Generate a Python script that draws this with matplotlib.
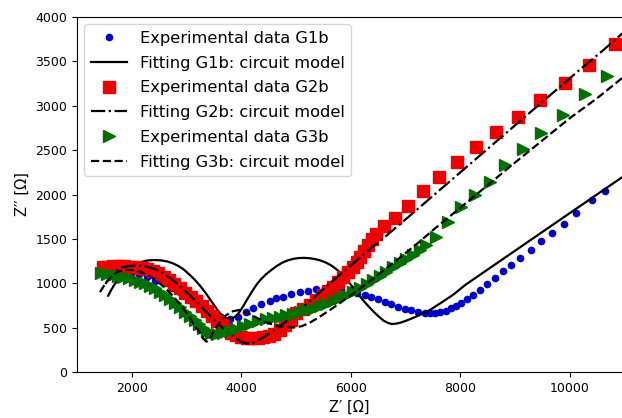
import matplotlib
matplotlib.use("Agg")
import matplotlib.pyplot as plt

# G1b experimental
g1_x = [1500,1620,1740,1870,2000,2140,2280,2430,2580,2730,2880,3030,3180,3330,3480,3630,3790,3940,4095,4216,4369,4520,4643,4763,4917,5068,5220,5373,5525,5677,5830,5982,6115,6256,6378,6499,6621,6743,6864,6986,7109,7229,7352,7443,7534,7638,7735,7827,7918,8022,8132,8234,8356,8490,8630,8782,8935,9087,9288,9471,9684,9897,10110,10397,10640]
g1_y = [1150,1160,1160,1150,1130,1100,1065,1030,1000,950,900,840,780,720,665,625,600,620,680,725,766,803,830,848,879,901,916,932,939,943,939,924,893,868,848,819,792,766,736,713,699,679,668,664,666,676,691,717,744,780,825,870,925,990,1060,1135,1206,1288,1380,1480,1570,1668,1788,1938,2040]

# G1b fit
g1f_x = [1570,1620,1680,1740,1800,1870,1950,2050,2150,2270,2400,2530,2650,2750,2850,2950,3050,3150,3250,3350,3450,3530,3600,3660,3720,3780,3840,3900,3960,4030,4100,4200,4280,4360,4450,4550,4650,4750,4850,4950,5050,5150,5250,5350,5450,5550,5650,5750,5850,5950,6050,6150,6250,6370,6450,6530,6600,6680,6750,6830,6900,7000,7100,7250,7450,7650,7869,8100,8400,8721,9087,9400,9757,10000,10305,10600,10960]
g1f_y = [860,920,980,1040,1090,1135,1175,1210,1235,1255,1262,1258,1245,1225,1195,1155,1100,1040,970,890,800,730,670,630,605,598,605,630,670,735,810,910,985,1045,1100,1150,1195,1232,1258,1275,1284,1286,1282,1272,1256,1232,1198,1152,1095,1025,945,865,790,710,660,615,578,553,541,545,555,575,600,640,700,780,870,985,1112,1248,1403,1536,1687,1790,1919,2044,2196]

# G2b experimental
g2_x = [1480,1570,1660,1760,1860,1960,2070,2180,2280,2380,2480,2580,2680,2780,2880,2980,3080,3180,3280,3370,3460,3550,3640,3730,3820,3910,4000,4100,4200,4300,4400,4500,4600,4700,4800,4900,5008,5130,5251,5370,5494,5590,5677,5770,5860,5950,6042,6105,6164,6240,6316,6392,6469,6600,6803,7047,7321,7613,7942,8283,8661,9056,9465,9909,10352,10822]
g2_y = [1180,1185,1190,1190,1190,1185,1180,1170,1160,1140,1110,1075,1035,990,945,895,850,800,745,690,630,580,530,480,440,415,395,385,380,385,395,410,430,475,530,590,661,705,755,810,868,915,961,1015,1074,1130,1187,1245,1300,1365,1431,1495,1555,1640,1732,1874,2040,2201,2363,2532,2708,2877,3065,3260,3459,3696]

# G2b fit
g2f_x = [1520,1600,1700,1800,1950,2100,2250,2400,2550,2700,2850,3000,3150,3300,3450,3600,3750,3900,4000,4100,4200,4300,4450,4600,4800,5000,5200,5400,5600,5800,6000,6200,6400,6600,6773,7200,7700,8200,8700,9200,9700,10200,10600,10960]
g2f_y = [990,1080,1140,1175,1195,1200,1190,1165,1120,1060,985,900,810,715,620,530,450,380,340,320,325,355,410,470,560,660,770,880,990,1095,1200,1305,1410,1510,1600,1825,2090,2355,2620,2885,3150,3415,3620,3815]

# G3b experimental
g3_x = [1447,1550,1659,1750,1842,1950,2055,2150,2238,2330,2420,2510,2603,2695,2786,2877,2968,3060,3151,3230,3302,3380,3456,3560,3667,3790,3912,4030,4155,4300,4460,4580,4703,4825,4946,5070,5190,5310,5434,5555,5677,5800,5921,6040,6164,6290,6408,6530,6651,6770,6895,7015,7138,7260,7383,7565,7778,8022,8265,8539,8813,9147,9482,9877,10274,10681]
g3_y = [1112,1105,1093,1083,1074,1055,1037,1018,999,970,943,905,868,820,774,727,680,633,586,540,500,465,440,428,435,460,490,520,545,570,595,610,625,640,655,675,695,715,740,770,805,835,868,905,943,990,1037,1085,1130,1178,1225,1270,1318,1375,1431,1525,1690,1863,1994,2144,2332,2509,2689,2896,3132,3335]

# G3b fit
g3f_x = [1420,1480,1560,1650,1750,1870,2000,2150,2300,2450,2600,2750,2900,3050,3150,3242,3300,3364,3420,3480,3547,3640,3730,3850,3973,4100,4246,4400,4550,4700,4825,4950,5100,5250,5400,5600,5800,6000,6200,6408,6600,6800,7000,7250,7504,8000,8500,9000,9209,9600,10000,10500,10960]
g3f_y = [900,960,1030,1090,1130,1150,1150,1130,1090,1030,950,860,750,620,520,450,380,342,360,440,510,590,642,685,700,670,623,575,540,515,505,500,515,555,610,690,775,865,955,1050,1145,1240,1340,1465,1600,1850,2105,2360,2464,2660,2860,3085,3314]

labels = ["Experimental data G1b", "Fitting G1b: circuit model",
          "Experimental data G2b", "Fitting G2b: circuit model",
          "Experimental data G3b", "Fitting G3b: circuit model"]
x_ticks = [2000, 4000, 6000, 8000, 10000]
y_ticks = [0, 500, 1000, 1500, 2000, 2500, 3000, 3500, 4000]

fig = plt.figure(figsize=(6.22, 4.18), dpi=100)
ax = fig.add_axes([77/622, 46/418, 545/622, 355/418])

ax.plot(g1_x, g1_y, 'o', color='#0000cc', markersize=4.5, linestyle='none', label=labels[0])
ax.plot(g1f_x, g1f_y, '-', color='black', lw=1.6, label=labels[1])
ax.plot(g2_x, g2_y, 's', color='#ee0000', markersize=8, linestyle='none', label=labels[2])
ax.plot(g2f_x, g2f_y, '-.', color='black', lw=1.6, label=labels[3])
ax.plot(g3_x, g3_y, '>', color='#007000', markersize=9, linestyle='none', label=labels[4])
ax.plot(g3f_x, g3f_y, '--', color='black', lw=1.6, label=labels[5])

ax.set_xlim(1000, 10954)
ax.set_ylim(0, 4000)
ax.set_xticks(x_ticks)
ax.set_yticks(y_ticks)
ax.tick_params(labelsize=9)
ax.spines['right'].set_visible(False)
ax.set_xlabel("Z\u2032 [\u03a9]", fontsize=10.5)
ax.set_ylabel("Z\u2032\u2032 [\u03a9]", fontsize=10.5)

ax.legend(loc='upper left', fontsize=11.7, handlelength=2.2, labelspacing=0.6,
          borderaxespad=0.45)

fig.savefig("out.png", dpi=100)
